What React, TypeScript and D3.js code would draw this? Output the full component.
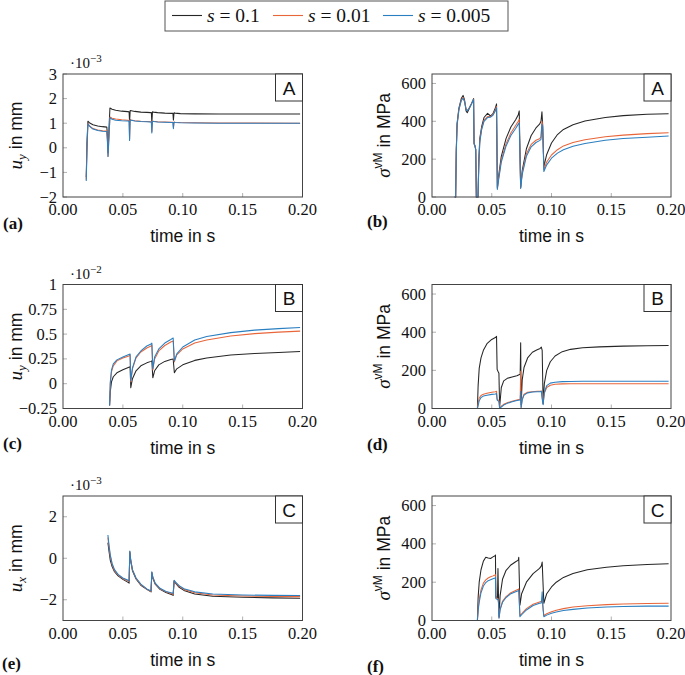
import React from "react";
import * as d3 from "d3";

// ---------- shared ----------
const xTicks = [0, 0.05, 0.1, 0.15, 0.2];
const xTickLabels = ["0.00", "0.05", "0.10", "0.15", "0.20"];
const seriesNames = ["0.1", "0.01", "0.005"];
const seriesColors = ["#262626", "#e8663a", "#2a7fc1"];

// ---------- panel (a): u_y, A, x 1e-3 ----------
const aT = [0.0194, 0.02, 0.0208, 0.022, 0.025, 0.029, 0.033, 0.0366, 0.0371, 0.0376, 0.0384, 0.0392, 0.041, 0.044, 0.049, 0.054, 0.0552, 0.0556, 0.0561, 0.057, 0.06, 0.065, 0.07, 0.0732, 0.0738, 0.0742, 0.0747, 0.0756, 0.079, 0.085, 0.091, 0.0918, 0.0922, 0.0927, 0.0936, 0.098, 0.11, 0.13, 0.16, 0.198];
const aS1 = [-1.2, 0.2, 1.08, 1.02, 0.94, 0.89, 0.86, 0.84, 0.5, -0.2, 0.8, 1.62, 1.57, 1.53, 1.49, 1.47, 1.46, 1.05, 1.52, 1.51, 1.48, 1.45, 1.44, 1.43, 1.43, 1.0, 1.46, 1.45, 1.43, 1.41, 1.4, 1.4, 1.12, 1.42, 1.41, 1.39, 1.38, 1.375, 1.37, 1.37];
const aS01 = [-1.3, 0.0, 1.0, 0.9, 0.78, 0.72, 0.69, 0.68, 0.3, -0.35, 0.5, 1.25, 1.2, 1.17, 1.14, 1.12, 1.11, 0.35, 1.15, 1.13, 1.1, 1.08, 1.07, 1.06, 1.06, 0.65, 1.09, 1.08, 1.06, 1.05, 1.04, 1.04, 0.82, 1.05, 1.04, 1.03, 1.02, 1.01, 1.005, 1.0];
const aS005 = [-1.35, -0.1, 0.98, 0.88, 0.76, 0.7, 0.67, 0.66, 0.25, -0.35, 0.45, 1.22, 1.16, 1.12, 1.1, 1.09, 1.08, 0.3, 1.14, 1.12, 1.09, 1.07, 1.06, 1.05, 1.05, 0.6, 1.08, 1.07, 1.05, 1.04, 1.03, 1.03, 0.78, 1.04, 1.03, 1.02, 1.01, 1.0, 1.0, 0.995];
const aYTicks = [-2, -1, 0, 1, 2, 3];
const aYLabels = ["−2", "−1", "0", "1", "2", "3"];

// ---------- panel (b): sigma vM, A ----------
const bT = [0.019, 0.0198, 0.0203, 0.021, 0.0225, 0.0245, 0.026, 0.0272, 0.0285, 0.0295, 0.031, 0.033, 0.0348, 0.0352, 0.036, 0.0366, 0.0371, 0.0385, 0.0392, 0.04, 0.0415, 0.0435, 0.0465, 0.049, 0.051, 0.053, 0.054, 0.0547, 0.0555, 0.058, 0.062, 0.066, 0.07, 0.0722, 0.073, 0.0742, 0.0755, 0.079, 0.083, 0.087, 0.09, 0.0912, 0.092, 0.0926, 0.0936, 0.096, 0.1, 0.105, 0.11, 0.118, 0.128, 0.145, 0.16, 0.18, 0.198];
const bS1 = [0, 0, 250, 390, 470, 520, 537, 515, 455, 445, 465, 492, 520, 285, 270, 250, 0, 0, 200, 310, 370, 420, 442, 428, 440, 470, 492, 50, 100, 215, 310, 370, 408, 435, 455, 50, 140, 255, 325, 365, 385, 400, 450, 380, 160, 225, 285, 330, 357, 382, 402, 420, 430, 437, 440];
const bS01 = [0, 0, 235, 382, 462, 512, 525, 507, 466, 456, 470, 494, 517, 282, 268, 250, 0, 0, 180, 295, 360, 405, 425, 425, 436, 460, 478, 45, 88, 195, 282, 338, 378, 400, 410, 48, 128, 228, 278, 300, 308, 318, 400, 380, 145, 185, 222, 250, 270, 288, 303, 318, 327, 335, 340];
const bS005 = [0, 0, 230, 380, 460, 510, 522, 505, 465, 455, 468, 492, 515, 280, 268, 250, 0, 0, 170, 290, 355, 400, 420, 422, 432, 455, 472, 40, 80, 185, 270, 325, 362, 385, 392, 45, 120, 215, 265, 288, 298, 305, 385, 370, 135, 170, 205, 232, 250, 268, 283, 300, 309, 316, 322];

// ---------- panel (c): u_y, B, x 1e-2 ----------
const cT = [0.0389, 0.0395, 0.0405, 0.042, 0.045, 0.05, 0.055, 0.056, 0.0566, 0.058, 0.061, 0.065, 0.07, 0.0735, 0.0742, 0.075, 0.0765, 0.08, 0.085, 0.09, 0.092, 0.093, 0.095, 0.1, 0.11, 0.12, 0.14, 0.16, 0.18, 0.198];
const cS1 = [-0.22, -0.08, 0.02, 0.07, 0.11, 0.14, 0.165, 0.17, -0.04, 0.05, 0.13, 0.18, 0.21, 0.225, 0.23, 0.06, 0.13, 0.19, 0.225, 0.245, 0.25, 0.11, 0.15, 0.19, 0.235, 0.26, 0.29, 0.305, 0.315, 0.325];
const cS01 = [-0.22, 0.0, 0.12, 0.18, 0.23, 0.26, 0.28, 0.29, 0.02, 0.15, 0.26, 0.32, 0.36, 0.38, 0.39, 0.14, 0.25, 0.33, 0.385, 0.42, 0.43, 0.22, 0.29, 0.35, 0.41, 0.44, 0.48, 0.505, 0.52, 0.53];
const cS005 = [-0.22, 0.02, 0.14, 0.2, 0.24, 0.27, 0.295, 0.3, 0.03, 0.16, 0.27, 0.33, 0.38, 0.4, 0.41, 0.15, 0.27, 0.35, 0.41, 0.445, 0.46, 0.23, 0.3, 0.37, 0.44, 0.475, 0.515, 0.54, 0.555, 0.567];
const cYTicks = [-0.25, 0, 0.25, 0.5, 0.75, 1];
const cYLabels = ["−0.25", "0", "0.25", "0.5", "0.75", "1"];

// ---------- panel (d): sigma vM, B ----------
const dT = [0.038, 0.0386, 0.0395, 0.041, 0.043, 0.046, 0.05, 0.053, 0.054, 0.0545, 0.0552, 0.056, 0.0566, 0.058, 0.06, 0.063, 0.067, 0.071, 0.0738, 0.0742, 0.0746, 0.0755, 0.077, 0.08, 0.084, 0.088, 0.0905, 0.0915, 0.0922, 0.093, 0.094, 0.096, 0.099, 0.103, 0.109, 0.116, 0.126, 0.14, 0.16, 0.18, 0.198];
const dS1 = [0, 120, 210, 265, 305, 340, 362, 372, 378, 205, 195, 185, 8, 110, 145, 158, 165, 172, 180, 345, 20, 150, 215, 265, 295, 308, 315, 322, 305, 25, 130, 200, 245, 275, 298, 310, 318, 323, 327, 329, 330];
const dS01 = [0, 30, 55, 68, 75, 80, 85, 88, 90, 50, 45, 42, 2, 12, 22, 30, 38, 44, 48, 195, 5, 50, 75, 85, 88, 90, 90, 92, 60, 25, 80, 110, 122, 127, 129, 130, 130, 130, 130, 130, 130];
const dS005 = [0, 15, 40, 58, 65, 70, 74, 76, 78, 45, 40, 38, 0, 8, 18, 27, 35, 42, 45, 90, 5, 45, 70, 82, 86, 88, 88, 90, 50, 20, 85, 120, 133, 138, 141, 142, 143, 143, 143, 143, 143];

// ---------- panel (e): u_x, C, x 1e-3 ----------
const eT = [0.0375, 0.0385, 0.0395, 0.041, 0.043, 0.046, 0.05, 0.054, 0.0552, 0.0558, 0.0565, 0.058, 0.061, 0.065, 0.07, 0.0735, 0.0742, 0.075, 0.077, 0.081, 0.086, 0.091, 0.092, 0.0928, 0.094, 0.097, 0.101, 0.11, 0.125, 0.15, 0.175, 0.198];
const eS1 = [0.75, 0.3, -0.1, -0.4, -0.65, -0.85, -1.02, -1.15, -1.2, 0.3, -0.1, -0.6, -1.0, -1.3, -1.5, -1.62, -0.7, -0.95, -1.25, -1.5, -1.65, -1.76, -1.79, -1.1, -1.2, -1.4, -1.55, -1.72, -1.83, -1.88, -1.91, -1.93];
const eS01 = [1.0, 0.5, 0.1, -0.3, -0.6, -0.8, -0.98, -1.08, -1.13, 0.33, -0.07, -0.57, -0.97, -1.27, -1.49, -1.6, -0.67, -0.92, -1.22, -1.47, -1.62, -1.71, -1.74, -1.08, -1.17, -1.35, -1.5, -1.66, -1.77, -1.82, -1.84, -1.85];
const eS005 = [1.12, 0.6, 0.15, -0.25, -0.55, -0.78, -0.95, -1.05, -1.1, 0.35, -0.05, -0.55, -0.95, -1.25, -1.48, -1.58, -0.65, -0.9, -1.2, -1.45, -1.6, -1.68, -1.7, -1.06, -1.15, -1.32, -1.47, -1.62, -1.72, -1.77, -1.79, -1.8];
const eYTicks = [-2, 0, 2];
const eYLabels = ["−2", "0", "2"];

// ---------- panel (f): sigma vM, C ----------
const fT = [0.038, 0.0386, 0.0395, 0.041, 0.043, 0.045, 0.047, 0.049, 0.051, 0.0528, 0.0531, 0.0534, 0.0548, 0.0552, 0.0556, 0.0561, 0.057, 0.059, 0.062, 0.066, 0.07, 0.0722, 0.0726, 0.0736, 0.075, 0.079, 0.0846, 0.09, 0.0915, 0.0922, 0.093, 0.0936, 0.096, 0.1, 0.104, 0.11, 0.118, 0.13, 0.146, 0.16, 0.18, 0.198];
const fS1 = [0, 120, 200, 265, 310, 330, 326, 324, 332, 338, 342, 125, 118, 272, 140, 20, 130, 215, 262, 290, 307, 315, 330, 80, 140, 200, 245, 272, 285, 305, 180, 90, 140, 175, 200, 225, 245, 265, 278, 286, 292, 296];
const fS01 = [0, 60, 110, 160, 195, 212, 222, 228, 233, 238, 240, 120, 115, 115, 100, 15, 60, 100, 125, 145, 157, 163, 165, 25, 35, 62, 85, 97, 100, 105, 60, 25, 35, 46, 54, 62, 70, 77, 83, 86, 89, 90];
const fS005 = [0, 50, 95, 145, 180, 198, 208, 213, 218, 222, 225, 115, 110, 110, 95, 12, 55, 95, 120, 140, 150, 155, 158, 20, 30, 55, 78, 90, 92, 150, 55, 20, 28, 38, 44, 52, 58, 65, 70, 73, 75, 75];

const sigYTicks = [0, 200, 400, 600];
const sigYLabels = ["0", "200", "400", "600"];

const SERIF = "'Liberation Serif', 'DejaVu Serif', serif";
const SANS = "'Liberation Sans', Arial, sans-serif";

type PanelProps = {
  x0: number; x1: number; y0: number; y1: number;
  yDomain: [number, number];
  yTicks: number[]; yLabels: string[];
  t: number[]; series: number[][];
  letter: string; exponent?: string;
  kind: "uy" | "ux" | "sig";
  tag: string; tagX: number; tagY: number;
};

function Panel(p: PanelProps) {
  const xs = d3.scaleLinear().domain([0, 0.2]).range([p.x0, p.x1]);
  const ys = d3.scaleLinear().domain(p.yDomain).range([p.y1, p.y0]);
  const line = d3.line<number>().x((_, i) => xs(p.t[i])).y((d) => ys(d));
  const isLeft = p.kind !== "sig";
  const labX = isLeft ? p.x0 - 41 : p.x0 - 42;
  const cy = (p.y0 + p.y1) / 2;
  const cx = (p.x0 + p.x1) / 2;
  return (
    <g>
      {/* ticks */}
      {xTicks.slice(1, -1).map((v) => (
        <line key={"xt" + v} x1={xs(v)} x2={xs(v)} y1={p.y1} y2={p.y1 - 4} stroke="#b0b0b0" strokeWidth={1} />
      ))}
      {p.yTicks.map((v) => (
        <line key={"yt" + v} x1={p.x0} x2={p.x0 + 4} y1={ys(v)} y2={ys(v)} stroke="#b0b0b0" strokeWidth={1} />
      ))}
      {/* data */}
      {p.series.map((s, i) => (
        <path key={i} d={line(s) || ""} fill="none" stroke={seriesColors[i]} strokeWidth={1.05} strokeLinejoin="round" />
      ))}
      {/* frame */}
      <rect x={p.x0} y={p.y0} width={p.x1 - p.x0} height={p.y1 - p.y0} fill="none" stroke="#444" strokeWidth={1} />
      {/* letter box */}
      <rect x={p.x1 - 27} y={p.y0} width={27} height={27} fill="white" stroke="#333" strokeWidth={1} />
      <text x={p.x1 - 13.5} y={p.y0 + 20.5} textAnchor="middle" fontFamily={SANS} fontSize={19} fill="#111">{p.letter}</text>
      {/* x tick labels */}
      {xTicks.map((v, i) => (
        <text key={"xl" + v} x={xs(v)} y={p.y1 + 18} textAnchor="middle" fontFamily={SERIF} fontSize={16.5} fill="#111">{xTickLabels[i]}</text>
      ))}
      {/* y tick labels */}
      {p.yTicks.map((v, i) => (
        <text key={"yl" + v} x={p.x0 - 6} y={ys(v) + 5.5} textAnchor="end" fontFamily={SERIF} fontSize={16.5} fill="#111">{p.yLabels[i]}</text>
      ))}
      {/* exponent */}
      {p.exponent && (
        <text x={p.x0 + 7} y={p.y0 - 6} fontFamily={SERIF} fontSize={15} fill="#111">
          ·10<tspan dy={-6} fontSize={11}>{p.exponent}</tspan>
        </text>
      )}
      {/* x label */}
      <text x={cx} y={p.y1 + 45} textAnchor="middle" fontFamily={SANS} fontSize={17.5} fill="#111">time in s</text>
      {/* y label */}
      <g transform={`translate(${labX},${cy}) rotate(-90)`}>
        {p.kind === "sig" ? (
          <text textAnchor="middle" fill="#111">
            <tspan fontFamily={SERIF} fontStyle="italic" fontSize={19}>σ</tspan>
            <tspan fontFamily={SANS} fontSize={12} dy={-8}>vM</tspan>
            <tspan fontFamily={SANS} fontSize={17.5} dy={8}> in MPa</tspan>
          </text>
        ) : (
          <text textAnchor="middle" fill="#111">
            <tspan fontFamily={SERIF} fontStyle="italic" fontSize={19}>u</tspan>
            <tspan fontFamily={SERIF} fontStyle="italic" fontSize={13} dy={4}>{p.kind === "uy" ? "y" : "x"}</tspan>
            <tspan fontFamily={SANS} fontSize={17.5} dy={-4}> in mm</tspan>
          </text>
        )}
      </g>
      {/* panel tag */}
      <text x={p.tagX} y={p.tagY} fontFamily={SERIF} fontWeight="bold" fontSize={17} fill="#111">{p.tag}</text>
    </g>
  );
}

function Legend() {
  const items = [
    { lx: 172, tx: 207 },
    { lx: 273, tx: 308 },
    { lx: 383, tx: 418 },
  ];
  return (
    <g>
      <rect x={165} y={1} width={343} height={30} fill="white" stroke="#555" strokeWidth={1} />
      {items.map((it, i) => (
        <g key={i}>
          <line x1={it.lx} x2={it.lx + 30} y1={15.5} y2={15.5} stroke={seriesColors[i]} strokeWidth={1.1} />
          <text x={it.tx} y={22} fontFamily={SERIF} fontSize={19.5} fill="#111">
            <tspan fontStyle="italic">s</tspan>
            <tspan> = {seriesNames[i]}</tspan>
          </text>
        </g>
      ))}
    </g>
  );
}

export default function App() {
  const L = { x0: 63, x1: 302.5 };
  const R = { x0: 432, x1: 671 };
  const rows = [
    { y0: 74, y1: 197 },
    { y0: 284.5, y1: 408.5 },
    { y0: 496, y1: 620.5 },
  ];
  return (
    <svg width={685} height={675} style={{ position: "absolute", left: 0, top: 0, display: "block", background: "white" }}>
      <Legend />
      <Panel {...L} {...rows[0]} yDomain={[-2, 3]} yTicks={aYTicks} yLabels={aYLabels} t={aT} series={[aS1, aS01, aS005]} letter="A" exponent="−3" kind="uy" tag="(a)" tagX={3} tagY={229} />
      <Panel {...R} {...rows[0]} yDomain={[0, 650]} yTicks={sigYTicks} yLabels={sigYLabels} t={bT} series={[bS1, bS01, bS005]} letter="A" kind="sig" tag="(b)" tagX={367} tagY={227} />
      <Panel {...L} {...rows[1]} yDomain={[-0.25, 1]} yTicks={cYTicks} yLabels={cYLabels} t={cT} series={[cS1, cS01, cS005]} letter="B" exponent="−2" kind="uy" tag="(c)" tagX={3} tagY={449} />
      <Panel {...R} {...rows[1]} yDomain={[0, 650]} yTicks={sigYTicks} yLabels={sigYLabels} t={dT} series={[dS1, dS01, dS005]} letter="B" kind="sig" tag="(d)" tagX={367} tagY={450} />
      <Panel {...L} {...rows[2]} yDomain={[-3, 3]} yTicks={eYTicks} yLabels={eYLabels} t={eT} series={[eS1, eS01, eS005]} letter="C" exponent="−3" kind="ux" tag="(e)" tagX={2} tagY={669} />
      <Panel {...R} {...rows[2]} yDomain={[0, 650]} yTicks={sigYTicks} yLabels={sigYLabels} t={fT} series={[fS1, fS01, fS005]} letter="C" kind="sig" tag="(f)" tagX={367} tagY={672} />
    </svg>
  );
}
